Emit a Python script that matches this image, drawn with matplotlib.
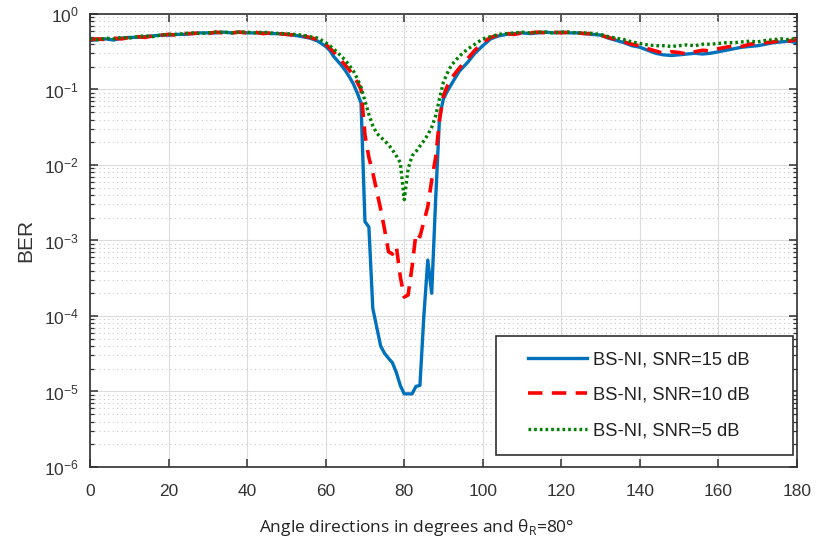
import matplotlib
matplotlib.use('Agg')
import matplotlib.pyplot as plt
import numpy as np
from matplotlib.patches import Rectangle
from matplotlib.ticker import LogLocator, MultipleLocator, NullFormatter

# angle grid (degrees), finer around the beam direction
angles = list(range(0, 60, 2)) + list(range(60, 93)) + list(range(94, 181, 2))

# BER, SNR = 15 dB
ber_15 = [
    0.447, 0.457, 0.468, 0.452, 0.479, 0.49, 0.49, 0.501, 0.513, 0.525,
    0.525, 0.537, 0.537, 0.55, 0.562, 0.562, 0.562, 0.575, 0.562, 0.575,
    0.562, 0.562, 0.562, 0.55, 0.55, 0.537, 0.525, 0.501, 0.479, 0.437,
    # 60 .. 92
    0.372, 0.331, 0.275, 0.24, 0.209, 0.178, 0.148, 0.12, 0.0912, 0.066,
    0.00178, 0.00151, 1.26e-4, 7.1e-5, 4.0e-5, 3.2e-5, 2.75e-5, 2.4e-5, 1.78e-5, 1.2e-5,
    9.3e-6, 9.3e-6, 9.3e-6, 1.17e-5, 1.2e-5, 1.0e-4, 5.5e-4, 2.0e-4, 0.00347, 0.0437,
    0.0759, 0.0955, 0.117,
    # 94 .. 180
    0.174, 0.224, 0.302, 0.38, 0.468, 0.513, 0.537, 0.55, 0.562, 0.55,
    0.562, 0.575, 0.562, 0.575, 0.562, 0.562, 0.55, 0.537, 0.525, 0.479,
    0.447, 0.417, 0.38, 0.363, 0.331, 0.302, 0.288, 0.282, 0.288, 0.295,
    0.302, 0.295, 0.302, 0.316, 0.331, 0.347, 0.363, 0.372, 0.38, 0.398,
    0.417, 0.427, 0.437, 0.417,
]

# BER, SNR = 10 dB
ber_10 = [
    0.457, 0.468, 0.457, 0.479, 0.468, 0.49, 0.501, 0.49, 0.513, 0.525,
    0.537, 0.525, 0.55, 0.55, 0.562, 0.55, 0.575, 0.562, 0.562, 0.575,
    0.562, 0.575, 0.55, 0.562, 0.55, 0.537, 0.525, 0.513, 0.49, 0.457,
    # 60 .. 92
    0.398, 0.355, 0.316, 0.275, 0.24, 0.209, 0.182, 0.155, 0.126, 0.1,
    0.025, 0.0126, 0.0079, 0.0045, 0.0026, 0.0014, 7.1e-4, 6.6e-4, 8.3e-4, 3.3e-4,
    1.78e-4, 1.9e-4, 4.5e-4, 1.26e-3, 1.12e-3, 1.78e-3, 2.8e-3, 6.3e-3, 0.0126, 0.0398,
    0.083, 0.112, 0.141,
    # 94 .. 180
    0.191, 0.251, 0.331, 0.417, 0.49, 0.525, 0.55, 0.537, 0.562, 0.562,
    0.575, 0.562, 0.575, 0.562, 0.575, 0.562, 0.55, 0.55, 0.525, 0.49,
    0.457, 0.427, 0.398, 0.38, 0.347, 0.324, 0.302, 0.316, 0.309, 0.295,
    0.316, 0.331, 0.324, 0.347, 0.363, 0.38, 0.372, 0.398, 0.407, 0.417,
    0.427, 0.447, 0.437, 0.457,
]

# BER, SNR = 5 dB
ber_5 = [
    0.468, 0.457, 0.479, 0.468, 0.49, 0.479, 0.501, 0.513, 0.501, 0.525,
    0.537, 0.537, 0.55, 0.562, 0.55, 0.562, 0.575, 0.575, 0.562, 0.575,
    0.575, 0.562, 0.575, 0.562, 0.55, 0.55, 0.537, 0.525, 0.501, 0.479,
    # 60 .. 92
    0.417, 0.38, 0.347, 0.309, 0.275, 0.245, 0.209, 0.178, 0.141, 0.107,
    0.0708, 0.0468, 0.0331, 0.0263, 0.0234, 0.0209, 0.0186, 0.0158, 0.0132, 0.0107,
    0.00347, 0.0089, 0.0132, 0.0151, 0.0178, 0.0209, 0.0251, 0.0316, 0.0447, 0.0759,
    0.126, 0.166, 0.209,
    # 94 .. 180
    0.275, 0.339, 0.398, 0.468, 0.501, 0.537, 0.55, 0.562, 0.575, 0.562,
    0.575, 0.575, 0.562, 0.575, 0.575, 0.562, 0.562, 0.55, 0.537, 0.501,
    0.479, 0.457, 0.427, 0.407, 0.39, 0.38, 0.38, 0.372, 0.38, 0.39,
    0.38, 0.398, 0.398, 0.407, 0.417, 0.417, 0.427, 0.437, 0.427, 0.447,
    0.457, 0.468, 0.457, 0.479,
]

labels = ['BS-NI, SNR=15 dB', 'BS-NI, SNR=10 dB', 'BS-NI, SNR=5 dB']

plt.rcParams['font.family'] = ['Liberation Sans', 'DejaVu Sans']

fig = plt.figure(figsize=(8.19, 5.49), dpi=100)
ax = fig.add_axes([0.110, 0.1494, 0.863, 0.8251])

ax.semilogy(angles, ber_15, color='#0072BD', lw=2.4, label=labels[0])
ax.semilogy(angles, ber_10, color='#FF0000', lw=2.6, ls=(0, (4, 2.6)), label=labels[1])
ax.semilogy(angles, ber_5, color='#008000', lw=2.4, ls=(0, (0.8, 0.9)), label=labels[2])

ax.set_xlim(0, 180)
ax.set_ylim(1e-6, 1)
ax.xaxis.set_major_locator(MultipleLocator(20))
ax.yaxis.set_major_locator(LogLocator(base=10, numticks=10))
ax.yaxis.set_minor_locator(LogLocator(base=10, subs=np.arange(2, 10), numticks=20))
ax.yaxis.set_minor_formatter(NullFormatter())

ax.grid(True, which='major', color='#dcdcdc', lw=0.8, ls='-')
ax.grid(True, which='minor', axis='y', color='#c8c8c8', lw=0.8, ls=(0, (1, 3)))
ax.set_axisbelow(True)

for sp in ax.spines.values():
    sp.set_color('#303030')
    sp.set_linewidth(1.2)
ax.tick_params(which='both', direction='in', top=True, right=True, colors='#303030')
ax.tick_params(which='major', length=6, width=1.1, labelsize=12.5, pad=12, labelcolor='#333333')
ax.tick_params(which='minor', length=3, width=0.9)
ax.tick_params(axis='y', pad=8)

ax.set_ylabel('BER', fontsize=15, color='#333333', labelpad=6)
fig.text(0.509, 0.039, 'Angle directions in degrees and θ$_\\mathregular{R}$=80°',
         ha='center', va='center', fontsize=12.5, family=['Open Sans', 'DejaVu Sans'],
         color='#222222')

# legend box drawn separately so the padding can be wider than tall
box = Rectangle((0.574, 0.0265), 0.420, 0.2627, transform=ax.transAxes,
                facecolor='white', edgecolor='#303030', lw=1.2, zorder=4)
ax.add_patch(box)
leg = ax.legend(loc='center', bbox_to_anchor=(0.7765, 0.158), fontsize=13.2,
                frameon=False, handlelength=3.2, labelspacing=1.0,
                handletextpad=0.3, borderpad=0, borderaxespad=0)
leg.set_zorder(5)
for t in leg.get_texts():
    t.set_color('#222222')

fig.savefig('out.png', dpi=100)
